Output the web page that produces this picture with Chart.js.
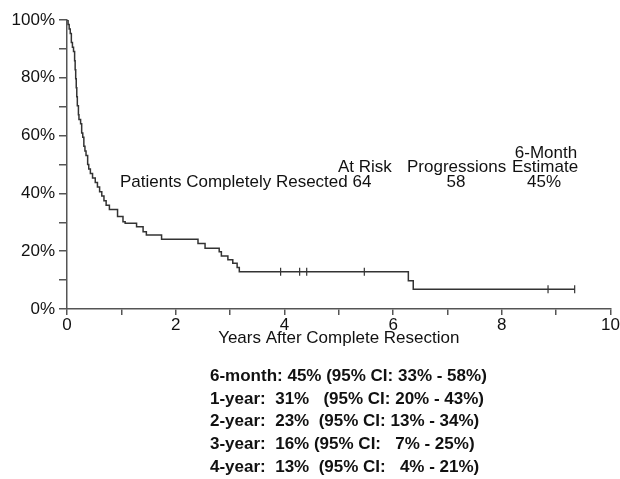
<!DOCTYPE html>
<html>
<head>
<meta charset="utf-8">
<script src="https://cdn.jsdelivr.net/npm/chart.js@4.4.0/dist/chart.umd.min.js"></script>
<style>
  html, body { margin: 0; padding: 0; background: #fff; }
  #wrap { position: relative; width: 620px; height: 479px; font-family: "Liberation Sans", Arial, sans-serif; color: #111; }
  #wrap canvas { position: absolute; left: 0; top: 0; }
  .t { position: absolute; font-size: 17px; line-height: 14px; white-space: pre; }
  .c { text-align: center; }
  #stats { position: absolute; left: 210px; top: 365px; font-size: 17px; font-weight: bold; line-height: 22.7px; white-space: pre; margin: 0; font-family: "Liberation Sans", Arial, sans-serif; }
</style>
</head>
<body>
<div id="wrap">
  <canvas id="mycanvas" width="620" height="479"></canvas>
  <div class="t c" style="left:506px; top:146px; width:80px;">6-Month</div>
  <div class="t" style="left:338px; top:160px;">At Risk</div>
  <div class="t" style="left:407px; top:160px;">Progressions</div>
  <div class="t" style="left:512px; top:160px;">Estimate</div>
  <div class="t" style="left:120px; top:175px;">Patients Completely Resected 64</div>
  <div class="t c" style="left:426px; top:175px; width:60px;">58</div>
  <div class="t c" style="left:514px; top:175px; width:60px;">45%</div>
  <pre id="stats"></pre>
</div>
<script>
// Kaplan-Meier curve (years, % progression-free)
var years = [0, 0.02, 0.04, 0.06, 0.08, 0.10, 0.12, 0.14, 0.15, 0.16, 0.17, 0.18, 0.19, 0.21,
    0.22, 0.25, 0.27, 0.29, 0.31, 0.33, 0.35, 0.38, 0.40, 0.43, 0.47, 0.52, 0.56, 0.60,
    0.64, 0.68, 0.72, 0.78, 0.93, 1.03, 1.07, 1.28, 1.40, 1.46, 1.74, 2.41, 2.54, 2.80,
    2.84, 2.96, 3.05, 3.13, 3.17, 6.28, 6.37, 9.34];
var survival = [100, 98.4, 96.9, 95.3, 92.2, 90.6, 89.1, 85.9, 82.8, 79.7, 76.6, 73.4, 70.3, 67.2,
    65.6, 64.1, 60.9, 59.4, 56.3, 54.7, 53.1, 50.0, 48.4, 46.9, 45.3, 43.8, 42.2, 40.6,
    39.1, 37.5, 35.9, 34.4, 32.0, 30.2, 29.7, 28.5, 26.7, 25.6, 24.1, 22.7, 21.0, 19.8,
    18.3, 17.0, 15.8, 14.4, 12.9, 9.8, 6.8, 6.8];

// censored observations
var censorYears = [3.93, 4.28, 4.41, 5.47, 8.85, 9.34];
var censorSurvival = [12.9, 12.9, 12.9, 12.9, 6.8, 6.8];

var yTicks = [0, 20, 40, 60, 80, 100];
var xTicks = [0, 2, 4, 6, 8, 10];

var statLines = [
    "6-month: 45% (95% CI: 33% - 58%)",
    "1-year:  31%   (95% CI: 20% - 43%)",
    "2-year:  23%  (95% CI: 13% - 34%)",
    "3-year:  16% (95% CI:   7% - 25%)",
    "4-year:  13%  (95% CI:   4% - 21%)"
];

document.getElementById("stats").textContent = statLines.join("\n");

var curve = [];
for (var i in years) {
    curve.push({ x: years[i], y: survival[i] });
}
var censored = [];
for (var j in censorYears) {
    censored.push({ x: censorYears[j], y: censorSurvival[j] });
}

var axisColor = '#555';
var tickFont = { family: "'Liberation Sans', Arial, sans-serif", size: 17 };

var ctx = document.getElementById("mycanvas");
var kmChart = new Chart(ctx, {
    type: 'scatter',
    data: {
        datasets: [
            {
                label: 'Patients Completely Resected',
                data: curve,
                showLine: true,
                stepped: true,
                borderColor: '#333',
                borderWidth: 1.5,
                pointRadius: 0,
                fill: false
            },
            {
                label: 'Censored',
                data: censored,
                pointStyle: 'line',
                rotation: 90,
                pointRadius: 4,
                borderColor: '#333',
                borderWidth: 1.2,
                backgroundColor: '#333'
            }
        ]
    },
    options: {
        responsive: false,
        animation: false,
        layout: { padding: { top: 20, right: 9, bottom: 130, left: 0 } },
        plugins: { legend: { display: false }, tooltip: { enabled: false } },
        scales: {
            x: {
                type: 'linear',
                min: 0,
                max: 10,
                border: { color: axisColor, width: 1.5 },
                grid: { drawOnChartArea: false, drawTicks: true, tickLength: 6, color: axisColor, lineWidth: 1.5 },
                ticks: {
                    stepSize: 1,
                    autoSkip: false,
                    maxRotation: 0,
                    padding: 0,
                    color: '#111',
                    font: tickFont,
                    callback: function (v) { return xTicks.indexOf(v) >= 0 ? String(v) : ''; }
                },
                title: {
                    display: true,
                    text: 'Years After Complete Resection',
                    color: '#111',
                    font: tickFont,
                    padding: { top: 0, bottom: 0 }
                },
                afterFit: function (scale) { scale.height = 40; }
            },
            y: {
                min: 0,
                max: 100,
                border: { color: axisColor, width: 1.5 },
                grid: { drawOnChartArea: false, drawTicks: true, tickLength: 8, color: axisColor, lineWidth: 1.5 },
                ticks: {
                    stepSize: 10,
                    padding: 4,
                    color: '#111',
                    font: tickFont,
                    callback: function (v) { return yTicks.indexOf(v) >= 0 ? v + '%' : ''; }
                },
                afterFit: function (scale) { scale.width = 67; }
            }
        }
    }
});
</script>
</body>
</html>
